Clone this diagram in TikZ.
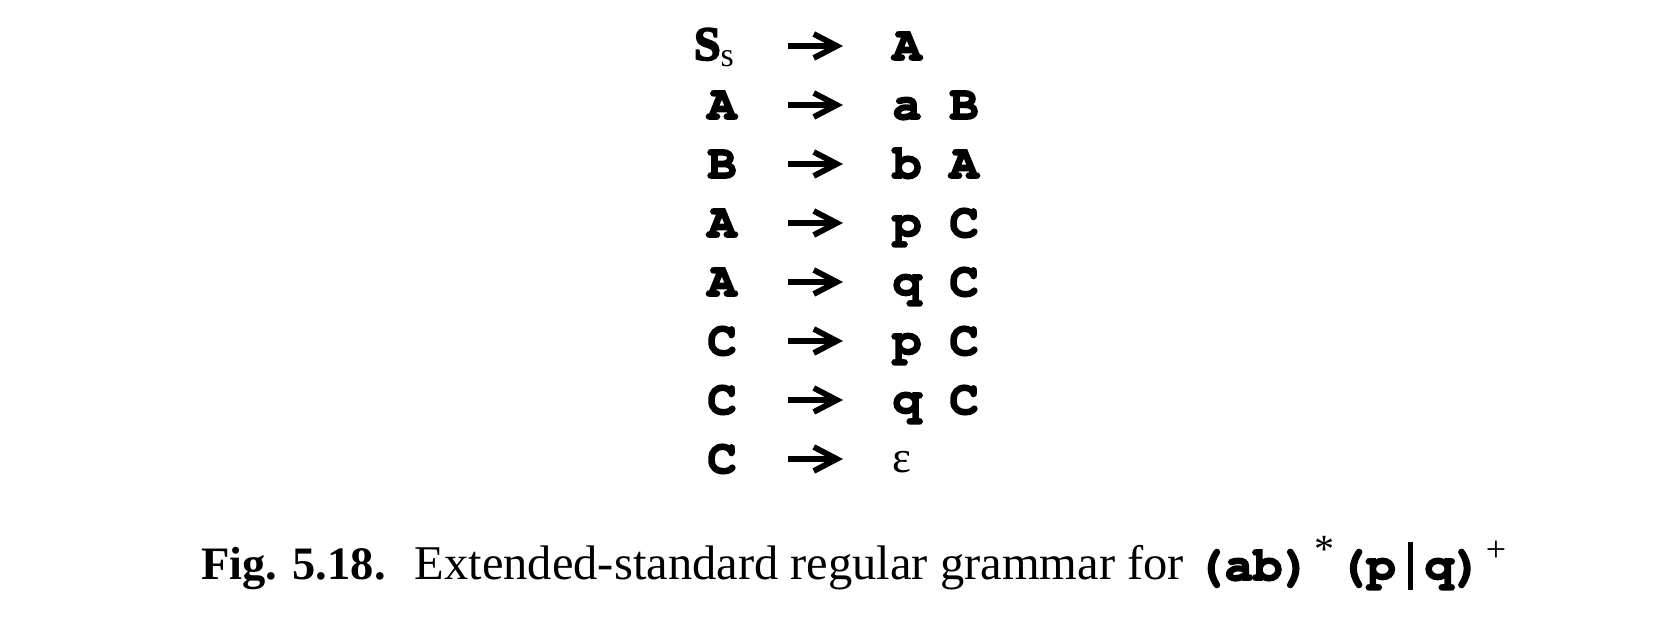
\documentclass[tikz,border=0pt]{standalone}
\usepackage[T1]{fontenc}
\usepackage{fontspec}
\setmainfont{Liberation Serif}
\usepackage{tikz}
\usetikzlibrary{arrows.meta}

\newcommand\cbf{\fontencoding{T1}\fontfamily{pcr}\fontseries{b}\fontshape{n}\fontsize{9.6}{11}\selectfont}
\newcommand\heavyon{\special{pdf:literal direct 2 Tr 0.35 w}}
\newcommand\heavyoff{\special{pdf:literal direct 0 Tr 0.4 w}}
\newcommand\heavy[1]{{\heavyon#1\heavyoff}}

\tikzset{
  sym/.style={anchor=base, inner sep=0pt, font=\cbf,
    execute at begin node=\heavyon, execute at end node=\heavyoff},
  prodarrow/.style={line width=1.15pt, -{Straight Barb[length=4.6pt,width=4.8pt]}}
}

\begin{document}
\begin{tikzpicture}[x=0.2pt,y=-0.2pt]
    \useasboundingbox (0,0) rectangle (1680,634);

    % start symbol
    \node[anchor=base west, inner sep=0pt] (lhs1) at (693,60)
      {\heavy{\textbf{\fontsize{9.6}{11}\selectfont S}}\raisebox{-1.4pt}{\fontsize{6.8}{8}\selectfont s}};

    % left hand sides
    \node[sym] (lhs2) at (722,119) {A};
    \node[sym] (lhs3) at (722,178) {B};
    \node[sym] (lhs4) at (722,237) {A};
    \node[sym] (lhs5) at (722,296) {A};
    \node[sym] (lhs6) at (722,355) {C};
    \node[sym] (lhs7) at (722,414) {C};
    \node[sym] (lhs8) at (722,473) {C};

    % right hand sides
    \node[sym] (rhsa1) at (907,60)  {A};
    \node[sym] (rhsa2) at (907,119) {a};
    \node[sym] (rhsb2) at (964,119) {B};
    \node[sym] (rhsa3) at (907,178) {b};
    \node[sym] (rhsb3) at (964,178) {A};
    \node[sym] (rhsa4) at (907,237) {p};
    \node[sym] (rhsb4) at (964,237) {C};
    \node[sym] (rhsa5) at (907,296) {q};
    \node[sym] (rhsb5) at (964,296) {C};
    \node[sym] (rhsa6) at (907,355) {p};
    \node[sym] (rhsb6) at (964,355) {C};
    \node[sym] (rhsa7) at (907,414) {q};
    \node[sym] (rhsb7) at (964,414) {C};
    \node[anchor=base, inner sep=0pt, font=\fontsize{9}{11}\selectfont] (rhsa8) at (902,473) {ε};

    % arrows
    \foreach \i in {1,...,8}
    {
      \coordinate (arrs\i) at (788,{60+59*(\i-1)-14});
      \coordinate (arre\i) at (843,{60+59*(\i-1)-14});
      \draw[prodarrow] (arrs\i) -- (arre\i);
    }

    % caption
    \node[anchor=base west, inner sep=0pt, font=\fontsize{9.7}{12}\selectfont] (caption) at (200,580)
      {{\fontsize{9.3}{12}\selectfont\bfseries Fig. 5.18.}\hspace{0.6em}Extended-standard regular grammar for
       \heavy{\cbf (ab)}\kern0.6pt\raisebox{3.5pt}{\fontsize{8}{9}\selectfont *}\kern0.8pt\heavy{\cbf (p}\makebox[5.8pt]{\rule[-2pt]{0.95pt}{9.6pt}}\heavy{\cbf q)}\kern0.7pt\raisebox{3.6pt}{\fontsize{7.2}{8}\selectfont +}};

\end{tikzpicture}
\end{document}
